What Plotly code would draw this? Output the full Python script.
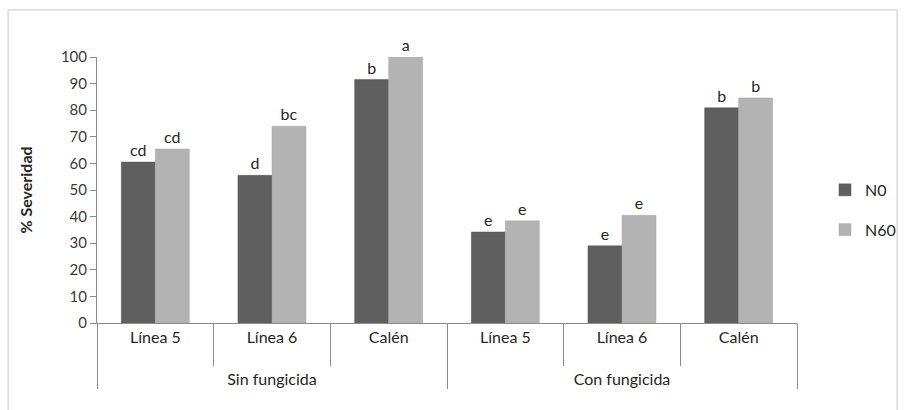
import plotly.graph_objects as go

groups = ["Sin fungicida"] * 3 + ["Con fungicida"] * 3
varieties = ["Línea 5", "Línea 6", "Calén", "Línea 5", "Línea 6", "Calén"]
n0_values = [60.5, 55.5, 91.5, 34.2, 29.0, 80.9]
n60_values = [65.4, 74.0, 100.0, 38.4, 40.5, 84.6]
n0_letters = ["cd", "d", "b", "e", "e", "b"]
n60_letters = ["cd", "bc", "a", "e", "e", "b"]
y_ticks = [0, 10, 20, 30, 40, 50, 60, 70, 80, 90, 100]

FONT = "Lato, Open Sans, sans-serif"
TXT = "#262626"

group_labels = ["<br>" + g for g in groups]

fig = go.Figure()
fig.add_trace(go.Bar(
    x=[group_labels, varieties], y=n0_values, name="N0",
    marker=dict(color="#5f5f5f", line=dict(color="#555555", width=0.5)),
    text=n0_letters, textposition="outside", cliponaxis=False,
    textfont=dict(size=16, color=TXT, family=FONT),
    legendgroup="a",
))
fig.add_trace(go.Bar(
    x=[group_labels, varieties], y=n60_values, name="N60",
    marker=dict(color="#b3b3b3", line=dict(color="#a8a8a8", width=0.5)),
    text=n60_letters, textposition="outside", cliponaxis=False,
    textfont=dict(size=16, color=TXT, family=FONT),
    legendgroup="b",
))

# outer chart frame
fig.add_shape(type="rect", xref="paper", yref="paper",
              x0=-0.127, x1=1.143, y0=-0.36, y1=1.177,
              line=dict(color="#c8c8c8", width=1), fillcolor="rgba(0,0,0,0)",
              layer="below")

fig.update_layout(
    width=905, height=410,
    margin=dict(l=97, r=108, t=57, b=87, autoexpand=False),
    paper_bgcolor="white", plot_bgcolor="white",
    font=dict(family=FONT, color=TXT, size=15),
    barmode="group", bargap=0.417, bargroupgap=0,
    showlegend=True,
    legend=dict(x=1.04, y=0.425, xanchor="left", yanchor="middle",
                font=dict(size=16, color=TXT, family=FONT),
                traceorder="grouped", tracegroupgap=16,
                itemwidth=30, bgcolor="rgba(0,0,0,0)"),
    xaxis=dict(
        type="multicategory", automargin=False,
        showline=True, linecolor="#8c8c8c", linewidth=1,
        ticks="outside", ticklen=42, tickcolor="#8c8c8c", tickwidth=1,
        tickson="boundaries",
        showdividers=True, dividercolor="#8c8c8c", dividerwidth=1,
        tickfont=dict(size=16, color=TXT, family=FONT),
        showgrid=False,
    ),
    yaxis=dict(
        range=[0, 100], tickvals=y_ticks, automargin=False,
        showline=True, linecolor="#8c8c8c", linewidth=1,
        ticks="outside", ticklen=6, tickcolor="#8c8c8c",
        tickfont=dict(size=15, color="#3a3a3a", family=FONT),
        showgrid=False, zeroline=False,
        title=dict(text="<b>% Severidad</b>", font=dict(size=16, color=TXT, family=FONT),
                   standoff=24),
    ),
)

fig.write_html("out.html", config={"displayModeBar": False},
               post_script="document.body.style.margin='0';document.body.style.overflow='hidden';")
